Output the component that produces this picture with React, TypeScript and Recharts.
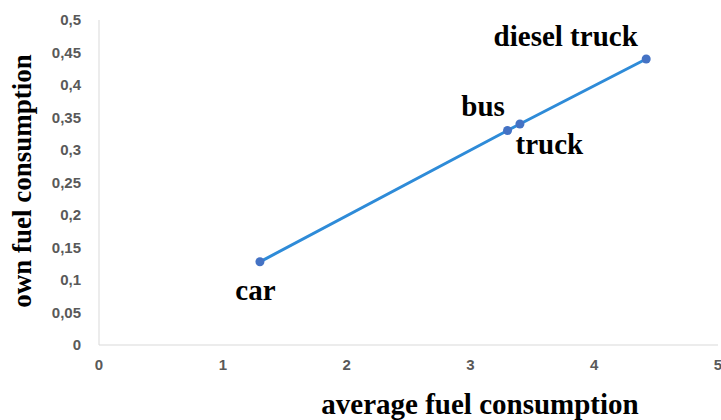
import { ScatterChart, Scatter, XAxis, YAxis, LabelList } from 'recharts'

const vehicles = ['car', 'bus', 'truck', 'diesel truck']
const averageFuel = [1.3, 3.3, 3.4, 4.42]
const ownFuel = [0.128, 0.33, 0.34, 0.44]

const xTicks = [0, 1, 2, 3, 4, 5]
const yTicks = [0, 0.05, 0.1, 0.15, 0.2, 0.25, 0.3, 0.35, 0.4, 0.45, 0.5]

const data = vehicles.map((name, i) => ({
  name,
  x: averageFuel[i],
  y: ownFuel[i],
}))

// label baseline position relative to its point
const labelShift: Record<string, [number, number]> = {
  car: [0, 43],
  bus: [-20, -10],
  truck: [34, 35],
  'diesel truck': [-76, -8],
}

const serif = '"Liberation Serif", "Times New Roman", serif'
const tickStyle = { fill: '#595959', fontSize: 15, fontWeight: 700, fontFamily: '"Liberation Sans", Arial, sans-serif' }

const fmt = (v: number) => String(v).replace('.', ',')

function PointLabel(props: any) {
  const { x, y, value } = props
  const [dx, dy] = labelShift[value] ?? [0, 0]
  return (
    <text x={x + dx} y={y + dy} textAnchor="middle" fontFamily={serif} fontWeight={700} fontSize={29} fill="#000">
      {value}
    </text>
  )
}

export default function App() {
  return (
    <div style={{ position: 'absolute', left: 0, top: 0, background: '#fff' }}>
      <ScatterChart width={721} height={420} margin={{ top: 20, right: 3, bottom: 0, left: 0 }}>
        <XAxis
          type="number"
          dataKey="x"
          domain={[0, 5]}
          ticks={xTicks}
          interval={0}
          height={75}
          tickLine={false}
          tickMargin={8}
          stroke="#d9d9d9"
          tick={tickStyle}
          label={{
            content: () => (
              <text x={480} y={414} textAnchor="middle" fontFamily={serif} fontWeight={700} fontSize={29} fill="#000">
                average fuel consumption
              </text>
            ),
          }}
        />
        <YAxis
          type="number"
          dataKey="y"
          domain={[0, 0.5]}
          ticks={yTicks}
          interval={0}
          width={99}
          tickLine={false}
          tickMargin={12}
          stroke="#d9d9d9"
          tick={tickStyle}
          tickFormatter={fmt}
          label={{
            content: () => (
              <text
                x={31}
                y={181}
                transform="rotate(-90 31 181)"
                textAnchor="middle"
                fontFamily={serif}
                fontWeight={700}
                fontSize={27}
                fill="#000"
              >
                own fuel consumption
              </text>
            ),
          }}
        />
        <Scatter
          data={data}
          fill="#4472c4"
          line={{ stroke: '#2e8bd8', strokeWidth: 3 }}
          shape={(p: any) => <circle cx={p.cx} cy={p.cy} r={4.5} fill="#4472c4" />}
          isAnimationActive={false}
        >
          <LabelList dataKey="name" content={PointLabel} />
        </Scatter>
      </ScatterChart>
    </div>
  )
}
